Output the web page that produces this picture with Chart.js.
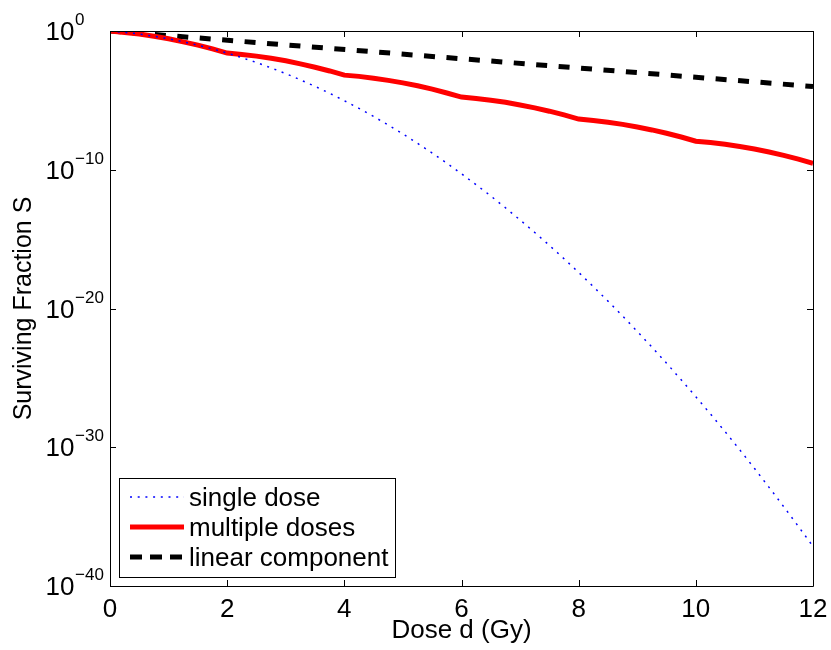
<!DOCTYPE html>
<html>
<head>
<meta charset="utf-8">
<title>Surviving fraction vs dose</title>
<script src="https://cdn.jsdelivr.net/npm/chart.js@4/dist/chart.umd.min.js"></script>
<style>
  html, body { margin: 0; padding: 0; background: #fff; }
  #wrap { width: 831px; height: 650px; }
</style>
</head>
<body>
<div id="wrap"><canvas id="survivalChart" width="831" height="650"></canvas></div>
<script>
// dose in Gy
const doses = [0, 0.25, 0.5, 0.75, 1, 1.25, 1.5, 1.75, 2, 2.25, 2.5, 2.75, 3, 3.25, 3.5, 3.75,
  4, 4.25, 4.5, 4.75, 5, 5.25, 5.5, 5.75, 6, 6.25, 6.5, 6.75, 7, 7.25, 7.5, 7.75,
  8, 8.25, 8.5, 8.75, 9, 9.25, 9.5, 9.75, 10, 10.25, 10.5, 10.75, 11, 11.25, 11.5, 11.75, 12];

// log10 of the surviving fraction
const singleDoseLog = [0, -0.10, -0.22, -0.38, -0.56, -0.78, -1.02, -1.29, -1.59, -1.92, -2.27, -2.66,
  -3.07, -3.52, -3.99, -4.49, -5.02, -5.58, -6.16, -6.78, -7.42, -8.10, -8.80, -9.53,
  -10.29, -11.08, -11.89, -12.74, -13.62, -14.52, -15.45, -16.41, -17.40, -18.42, -19.47, -20.54,
  -21.65, -22.78, -23.94, -25.14, -26.36, -27.60, -28.88, -30.19, -31.52, -32.89, -34.28, -35.70, -37.15];

const multipleDosesLog = [0, -0.10, -0.22, -0.38, -0.56, -0.78, -1.02, -1.29, -1.59,
  -1.69, -1.81, -1.97, -2.15, -2.37, -2.61, -2.88, -3.18,
  -3.27, -3.40, -3.56, -3.74, -3.95, -4.19, -4.47, -4.76,
  -4.86, -4.99, -5.14, -5.33, -5.54, -5.78, -6.05, -6.35,
  -6.45, -6.58, -6.73, -6.92, -7.13, -7.37, -7.64, -7.94,
  -8.04, -8.16, -8.32, -8.50, -8.72, -8.96, -9.23, -9.53];

const linearDoses = [0, 12];
const linearLog = [0, -4.0];

const xTicks = [0, 2, 4, 6, 8, 10, 12];
const yTickExps = [0, -10, -20, -30, -40];

const legendLabels = ["single dose", "multiple doses", "linear component"];

const FONT = "'Liberation Sans', Arial, Helvetica, sans-serif";

function toPoints(xs, logs) {
  return xs.map((x, i) => ({ x: x, y: Math.pow(10, logs[i]) }));
}

// axes box with inward ticks, MATLAB style
const boxPlugin = {
  id: "box",
  afterDraw(chart) {
    const ctx = chart.ctx;
    const a = chart.chartArea;
    const xs = chart.scales.x;
    const ys = chart.scales.y;
    ctx.save();
    ctx.strokeStyle = "#000";
    ctx.lineWidth = 1;
    ctx.beginPath();
    ctx.rect(Math.round(a.left) + 0.5, Math.round(a.top) + 0.5,
      Math.round(a.right - a.left), Math.round(a.bottom - a.top));
    ctx.stroke();

    const tl = 6;
    ctx.beginPath();
    xTicks.forEach(v => {
      const px = Math.round(xs.getPixelForValue(v)) + 0.5;
      ctx.moveTo(px, a.bottom); ctx.lineTo(px, a.bottom - tl);
      ctx.moveTo(px, a.top); ctx.lineTo(px, a.top + tl);
    });
    yTickExps.forEach(e => {
      const py = Math.round(ys.getPixelForValue(Math.pow(10, e))) + 0.5;
      ctx.moveTo(a.left, py); ctx.lineTo(a.left + tl, py);
      ctx.moveTo(a.right, py); ctx.lineTo(a.right - tl, py);
    });
    ctx.stroke();

    // y tick labels: 10 with superscript exponent
    ctx.fillStyle = "#000";
    yTickExps.forEach(e => {
      const py = ys.getPixelForValue(Math.pow(10, e));
      ctx.font = "26px " + FONT;
      ctx.textAlign = "right";
      ctx.textBaseline = "alphabetic";
      ctx.fillText("10", 74.5, py + 9);
      ctx.font = "17px " + FONT;
      ctx.textAlign = "left";
      ctx.fillText(e === 0 ? "0" : "\u2212" + Math.abs(e), 75, py - 6);
    });
    ctx.restore();
  }
};

// legend box in the lower left corner
const legendPlugin = {
  id: "boxLegend",
  afterDraw(chart) {
    const ctx = chart.ctx;
    const sets = chart.data.datasets;
    ctx.save();
    ctx.fillStyle = "#fff";
    ctx.fillRect(119, 478, 276, 99);
    ctx.strokeStyle = "#000";
    ctx.lineWidth = 1;
    ctx.strokeRect(119.5, 478.5, 276, 99);

    const rows = [{ line: 497, base: 506 }, { line: 527, base: 536 }, { line: 557, base: 566 }];
    const dashes = [[2, 5.7], [], [12, 8]];
    sets.forEach((ds, i) => {
      ctx.beginPath();
      ctx.strokeStyle = ds.borderColor;
      ctx.lineWidth = ds.borderWidth;
      ctx.setLineDash(dashes[i]);
      ctx.moveTo(130, rows[i].line);
      ctx.lineTo(184, rows[i].line);
      ctx.stroke();
      ctx.setLineDash([]);
      ctx.fillStyle = "#000";
      ctx.font = "26px " + FONT;
      ctx.textAlign = "left";
      ctx.textBaseline = "alphabetic";
      ctx.fillText(legendLabels[i], 189, rows[i].base);
    });
    ctx.restore();
  }
};

new Chart(document.getElementById("survivalChart"), {
  type: "line",
  data: {
    datasets: [
      {
        label: legendLabels[0],
        data: toPoints(doses, singleDoseLog),
        borderColor: "#0000ff",
        borderWidth: 1.5,
        borderDash: [2, 5.7],
        pointRadius: 0,
        tension: 0
      },
      {
        label: legendLabels[1],
        data: toPoints(doses, multipleDosesLog),
        borderColor: "#ff0000",
        borderWidth: 5,
        pointRadius: 0,
        tension: 0
      },
      {
        label: legendLabels[2],
        data: toPoints(linearDoses, linearLog),
        borderColor: "#000000",
        borderWidth: 5,
        borderDash: [11, 11.5],
        pointRadius: 0,
        tension: 0
      }
    ]
  },
  options: {
    responsive: false,
    animation: false,
    layout: { padding: { top: 31, right: 18, left: 0, bottom: 0 } },
    plugins: {
      legend: { display: false },
      tooltip: { enabled: false }
    },
    scales: {
      x: {
        type: "linear",
        min: 0,
        max: 12,
        afterFit: s => { s.height = 64; s.paddingLeft = 0; s.paddingRight = 0; },
        afterBuildTicks: s => { s.ticks = xTicks.map(v => ({ value: v })); },
        grid: { display: false, drawTicks: false },
        border: { display: false },
        ticks: {
          padding: 8,
          color: "#000",
          font: { family: FONT, size: 26 },
          maxRotation: 0
        },
        title: {
          display: true,
          text: "Dose d (Gy)",
          color: "#000",
          font: { family: FONT, size: 26 },
          padding: { top: 0, bottom: 3.5 }
        }
      },
      y: {
        type: "logarithmic",
        min: 1e-40,
        max: 1,
        afterFit: s => { s.width = 110; },
        grid: { display: false, drawTicks: false },
        border: { display: false },
        ticks: { display: false },
        title: {
          display: true,
          text: "Surviving Fraction S",
          color: "#000",
          font: { family: FONT, size: 25 },
          padding: { top: 9.5, bottom: 0 }
        }
      }
    }
  },
  plugins: [boxPlugin, legendPlugin]
});
</script>
</body>
</html>
